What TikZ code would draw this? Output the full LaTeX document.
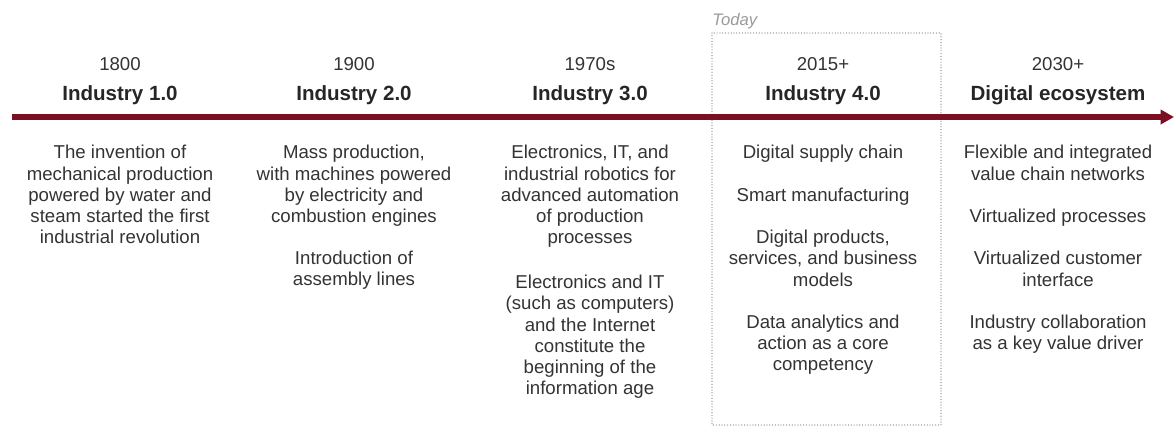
\documentclass[tikz,border=0pt]{standalone}
\usepackage{fontspec}
\setmainfont{Liberation Sans}
\usepackage{tikz}
\usetikzlibrary{arrows.meta}
\definecolor{timeline}{HTML}{7A1022}
\definecolor{bodytext}{HTML}{333333}
\definecolor{todaygray}{HTML}{9A9A9A}
\definecolor{framegray}{HTML}{7A7A7A}

\begin{document}
\begin{tikzpicture}
[
    x = 0.02cm, y = -0.02cm,
    yr/.style   = {anchor = base, text = bodytext, inner sep = 0pt, font = \fontsize{10.6}{12.1}\selectfont},
    era/.style  = {anchor = base, text = black!85, inner sep = 0pt, font = \fontsize{11.7}{13}\selectfont\bfseries},
    desc/.style = {anchor = north, align = center, text = bodytext, inner sep = 0pt, font = \fontsize{10.6}{12.07}\selectfont}
]
\useasboundingbox (0,0) rectangle (1176,427);

% today frame
\coordinate (box-nw) at (712,33);
\coordinate (box-se) at (941,425);
\draw[framegray, line width = 0.7pt, line cap = round, dash pattern = on 0pt off 1.6pt] (box-nw) rectangle (box-se);
\node[anchor = base west, inner sep = 0pt, text = todaygray, font = \fontsize{9.5}{11}\selectfont\itshape] (today) at (712,25) {Today};

% timeline
\coordinate (tl-start) at (12,117);
\coordinate (tl-end) at (1174,117);
\draw[timeline, line width = 2.9pt, -{Triangle[length = 7.6pt, width = 8pt]}] (tl-start) -- (tl-end);

% years and eras
\node[yr] (yr1) at (120,70) {1800};
\node[yr] (yr2) at (354,70) {1900};
\node[yr] (yr3) at (590,70) {1970s};
\node[yr] (yr4) at (823,70) {2015+};
\node[yr] (yr5) at (1058,70) {2030+};

\node[era] (ind1) at (120,100) {Industry 1.0};
\node[era] (ind2) at (354,100) {Industry 2.0};
\node[era] (ind3) at (590,100) {Industry 3.0};
\node[era] (ind4) at (823,100) {Industry 4.0};
\node[era] (eco) at (1058,100) {Digital ecosystem};

% descriptions
\node[desc] (desc1) at (120,145) {The invention of\\ mechanical production\\ powered by water and\\ steam started the first\\ industrial revolution};
\node[desc] (desc2) at (354,145) {Mass production,\\ with machines powered\\ by electricity and\\ combustion engines\\[12pt]
    Introduction of\\ assembly lines};
\node[desc] (desc3) at (590,145) {Electronics, IT, and\\ industrial robotics for\\ advanced automation\\ of production\\ processes\\[13.5pt]
    Electronics and IT\\ (such as computers)\\ and the Internet\\ constitute the\\ beginning of the\\ information age};
\node[desc] (desc4) at (823,145) {Digital supply chain\\[12.07pt]
    Smart manufacturing\\[12.07pt]
    Digital products,\\ services, and business\\ models\\[12.07pt]
    Data analytics and\\ action as a core\\ competency};
\node[desc] (desc5) at (1058,145) {Flexible and integrated\\ value chain networks\\[12.07pt]
    Virtualized processes\\[12.07pt]
    Virtualized customer\\ interface\\[12.07pt]
    Industry collaboration\\ as a key value driver};
\end{tikzpicture}
\end{document}
